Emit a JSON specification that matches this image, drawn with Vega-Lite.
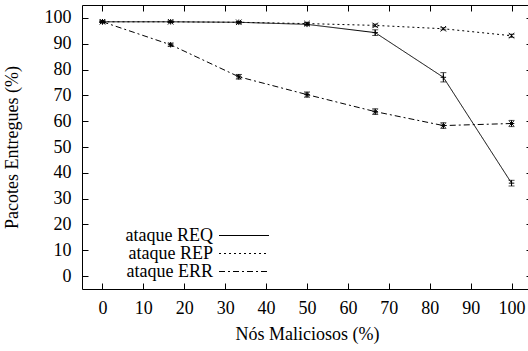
{
  "$schema": "https://vega.github.io/schema/vega-lite/v6.json",
  "width": 450,
  "height": 284,
  "autosize": {"type": "none"},
  "padding": {"left": 82, "top": 5, "right": 0, "bottom": 62},
  "background": "white",
  "config": {
    "view": {"stroke": "black", "strokeWidth": 1},
    "font": "Liberation Serif",
    "axis": {
      "grid": false,
      "domain": false,
      "tickSize": -6,
      "tickColor": "black",
      "tickWidth": 1,
      "labelOverlap": false,
      "labelFont": "Liberation Serif",
      "labelFontSize": 18,
      "labelColor": "black",
      "titleFont": "Liberation Serif",
      "titleFontSize": 18,
      "titleFontWeight": "normal",
      "titleColor": "black"
    },
    "legend": {
      "labelFont": "Liberation Serif",
      "labelFontSize": 18,
      "labelColor": "black"
    }
  },
  "data": {
    "values": [
      {"series": "ataque REQ", "x": 0, "y": 98.5, "lo": 98.2, "hi": 98.8},
      {"series": "ataque REQ", "x": 16.67, "y": 98.5, "lo": 98.2, "hi": 98.8},
      {"series": "ataque REQ", "x": 33.33, "y": 98.3, "lo": 98.0, "hi": 98.6},
      {"series": "ataque REQ", "x": 50, "y": 97.5, "lo": 97.0, "hi": 98.0},
      {"series": "ataque REQ", "x": 66.67, "y": 94.3, "lo": 93.2, "hi": 95.4},
      {"series": "ataque REQ", "x": 83.33, "y": 77.0, "lo": 75.2, "hi": 78.8},
      {"series": "ataque REQ", "x": 100, "y": 36.0, "lo": 34.9, "hi": 37.1},
      {"series": "ataque REP", "x": 0, "y": 98.5, "lo": 98.2, "hi": 98.8},
      {"series": "ataque REP", "x": 16.67, "y": 98.5, "lo": 98.2, "hi": 98.8},
      {"series": "ataque REP", "x": 33.33, "y": 98.3, "lo": 98.0, "hi": 98.6},
      {"series": "ataque REP", "x": 50, "y": 97.8, "lo": 97.4, "hi": 98.2},
      {"series": "ataque REP", "x": 66.67, "y": 97.1, "lo": 96.6, "hi": 97.6},
      {"series": "ataque REP", "x": 83.33, "y": 95.8, "lo": 95.4, "hi": 96.2},
      {"series": "ataque REP", "x": 100, "y": 93.1, "lo": 92.5, "hi": 93.7},
      {"series": "ataque ERR", "x": 0, "y": 98.5, "lo": 98.2, "hi": 98.8},
      {"series": "ataque ERR", "x": 16.67, "y": 89.6, "lo": 89.0, "hi": 90.2},
      {"series": "ataque ERR", "x": 33.33, "y": 77.2, "lo": 76.3, "hi": 78.1},
      {"series": "ataque ERR", "x": 50, "y": 70.3, "lo": 69.3, "hi": 71.3},
      {"series": "ataque ERR", "x": 66.67, "y": 63.7, "lo": 62.6, "hi": 64.8},
      {"series": "ataque ERR", "x": 83.33, "y": 58.3, "lo": 57.2, "hi": 59.4},
      {"series": "ataque ERR", "x": 100, "y": 59.1, "lo": 57.9, "hi": 60.3}
    ]
  },
  "resolve": {"axis": {"x": "independent", "y": "independent"}},
  "layer": [
    {
      "mark": {"type": "line", "color": "black", "strokeWidth": 1},
      "encoding": {
        "x": {
          "field": "x", "type": "quantitative",
          "scale": {"domain": [-5, 105], "nice": false, "zero": false},
          "axis": {"orient": "bottom", "values": [0,10,20,30,40,50,60,70,80,90,100], "title": "Nós Maliciosos (%)", "labelPadding": 16, "titlePadding": 8}
        },
        "y": {
          "field": "y", "type": "quantitative",
          "scale": {"domain": [-5, 105], "nice": false, "zero": false},
          "axis": {"orient": "left", "values": [0,10,20,30,40,50,60,70,80,90,100], "title": "Pacotes Entregues (%)", "labelPadding": 17, "titlePadding": 23}
        },
        "strokeDash": {
          "field": "series", "type": "nominal",
          "scale": {"domain": ["ataque REQ", "ataque REP", "ataque ERR"], "range": [[1, 0], [2, 3], [6, 3, 2, 3]]},
          "legend": {
            "title": null,
            "orient": "none",
            "legendX": 128,
            "legendY": 221.5,
            "padding": 0,
            "symbolType": "M 0 0 H 25",
            "symbolSize": 16,
            "symbolStrokeColor": "black",
            "symbolStrokeWidth": 1,
            "symbolFillColor": "transparent",
            "labelAlign": "right",
            "labelOffset": -15,
            "rowPadding": 0
          }
        }
      }
    },
    {
      "mark": {"type": "errorbar", "color": "black", "ticks": {"size": 6, "color": "black"}, "rule": {"strokeWidth": 1}},
      "encoding": {
        "x": {"field": "x", "type": "quantitative", "axis": null},
        "y": {"field": "lo", "type": "quantitative", "axis": null},
        "y2": {"field": "hi"},
        "detail": {"field": "series"}
      }
    },
    {
      "transform": [{"filter": "datum.series === 'ataque REQ'"}],
      "mark": {"type": "point", "shape": "M -1 0 H 1 M 0 -1 V 1", "filled": false, "stroke": "black", "strokeWidth": 1, "size": 30, "opacity": 1},
      "encoding": {
        "x": {"field": "x", "type": "quantitative",
          "axis": {"orient": "top", "values": [0,10,20,30,40,50,60,70,80,90,100], "labels": false, "title": null}},
        "y": {"field": "y", "type": "quantitative",
          "axis": {"orient": "right", "values": [0,10,20,30,40,50,60,70,80,90,100], "labels": false, "title": null}}
      }
    },
    {
      "transform": [{"filter": "datum.series === 'ataque REP'"}],
      "mark": {"type": "point", "shape": "M -1 -1 L 1 1 M -1 1 L 1 -1", "filled": false, "stroke": "black", "strokeWidth": 1, "size": 30, "opacity": 1},
      "encoding": {
        "x": {"field": "x", "type": "quantitative", "axis": null},
        "y": {"field": "y", "type": "quantitative", "axis": null}
      }
    },
    {
      "transform": [{"filter": "datum.series === 'ataque ERR'"}],
      "mark": {"type": "point", "shape": "M -1 0 H 1 M 0 -1 V 1 M -0.8 -0.8 L 0.8 0.8 M -0.8 0.8 L 0.8 -0.8", "filled": false, "stroke": "black", "strokeWidth": 1, "size": 30, "opacity": 1},
      "encoding": {
        "x": {"field": "x", "type": "quantitative", "axis": null},
        "y": {"field": "y", "type": "quantitative", "axis": null}
      }
    }
  ]
}
